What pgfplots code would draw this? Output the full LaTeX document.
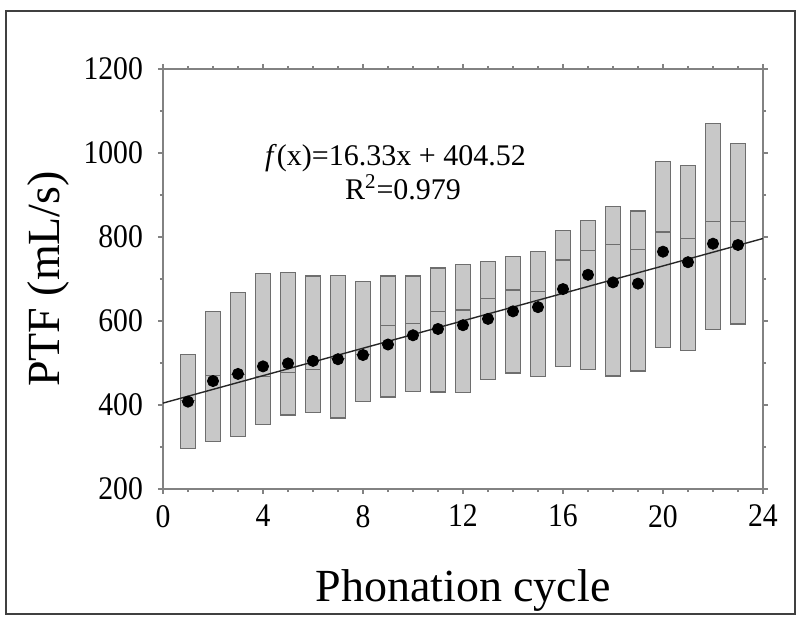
\documentclass[border=0pt]{standalone}
\usepackage{pgfplots}
\pgfplotsset{compat=1.18}
\usepgfplotslibrary{statistics}
\usepackage{fontspec}
\setmainfont{Liberation Serif}
\newfontfamily\tickfont[FakeStretch=0.9]{Liberation Serif}
\definecolor{boxfill}{RGB}{200,200,200}
\definecolor{boxedge}{RGB}{110,110,110}
\definecolor{axgray}{RGB}{130,130,130}
\newcommand{\bx}[4]{%
  \addplot[draw=boxedge, fill=boxfill, line width=0.6pt,
    boxplot prepared={draw position=#1, lower whisker=#2, lower quartile=#2,
      median=#3, upper quartile=#4, upper whisker=#4, box extend=0.6,
      whisker extend=0}] coordinates {};}
\begin{document}
\begin{tikzpicture}
\useasboundingbox (-81.5pt,-66pt) rectangle (318.5pt,244.5pt);
\draw[color=black!75, line width=0.6pt] (-78.5pt,-62.5pt) rectangle (316pt,239pt);
\begin{axis}[
  scale only axis, width=300pt, height=210pt,
  xmin=0, xmax=24, ymin=200, ymax=1200,
  xtick={0,4,...,24}, ytick={200,400,...,1200},
  minor x tick num=3, minor y tick num=1,
  tick align=outside, major tick length=2.5pt, minor tick length=1.6pt,
  axis line style={draw=axgray, line width=1pt},
  every tick/.style={draw=axgray, line width=0.6pt},
  boxplot/draw direction=y,
  boxplot/every whisker/.style={draw=none},
  /pgf/number format/assume math mode=true,
  /pgf/number format/1000 sep={},
  ticklabel style={font=\tickfont\fontsize{16.5}{19}\selectfont},
  xticklabel style={yshift=-2pt},
  yticklabel style={xshift=-4pt},
  xlabel={Phonation cycle}, ylabel={PTF (mL/s)},
  label style={font=\fontsize{23}{27}\selectfont},
  xlabel style={at={(axis description cs:0.5,-0.269)}, anchor=base},
  ylabel style={at={(axis description cs:-0.1717,0.5)}, anchor=base},
  clip=false,
]
\bx{1}{297}{410}{520}
\bx{2}{314}{471}{622}
\bx{3}{325}{472}{668}
\bx{4}{354}{467}{713}
\bx{5}{376}{478}{716}
\bx{6}{382}{484}{707}
\bx{7}{369}{510}{708}
\bx{8}{409}{520}{694}
\bx{9}{419}{590}{707}
\bx{10}{432}{594}{707}
\bx{11}{431}{622}{726}
\bx{12}{429}{626}{735}
\bx{13}{460}{654}{742}
\bx{14}{476}{674}{753}
\bx{15}{468}{671}{766}
\bx{16}{491}{745}{815}
\bx{17}{485}{768}{840}
\bx{18}{469}{783}{873}
\bx{19}{481}{770}{862}
\bx{20}{537}{812}{979}
\bx{21}{530}{796}{970}
\bx{22}{580}{836}{1071}
\bx{23}{593}{836}{1022}
\addplot[black!85, line width=0.7pt] coordinates {(0,404.52) (24,796.44)};
\addplot[only marks, mark=*, mark size=2.8pt, black] coordinates {
(1,408) (2,457) (3,474) (4,492) (5,499) (6,505) (7,509) (8,519)
(9,544) (10,566) (11,581) (12,590) (13,605) (14,623) (15,633)
(16,676) (17,710) (18,692) (19,689) (20,765) (21,740) (22,784) (23,781)};
\node[anchor=base, font=\fontsize{15}{18}\selectfont] at (axis cs:9.3,970) {\textit{f}(x)=16.33x + 404.52};
\node[anchor=base, font=\fontsize{15}{18}\selectfont] at (axis cs:9.6,890) {R\textsuperscript{2}=0.979};
\end{axis}
\end{tikzpicture}
\end{document}
